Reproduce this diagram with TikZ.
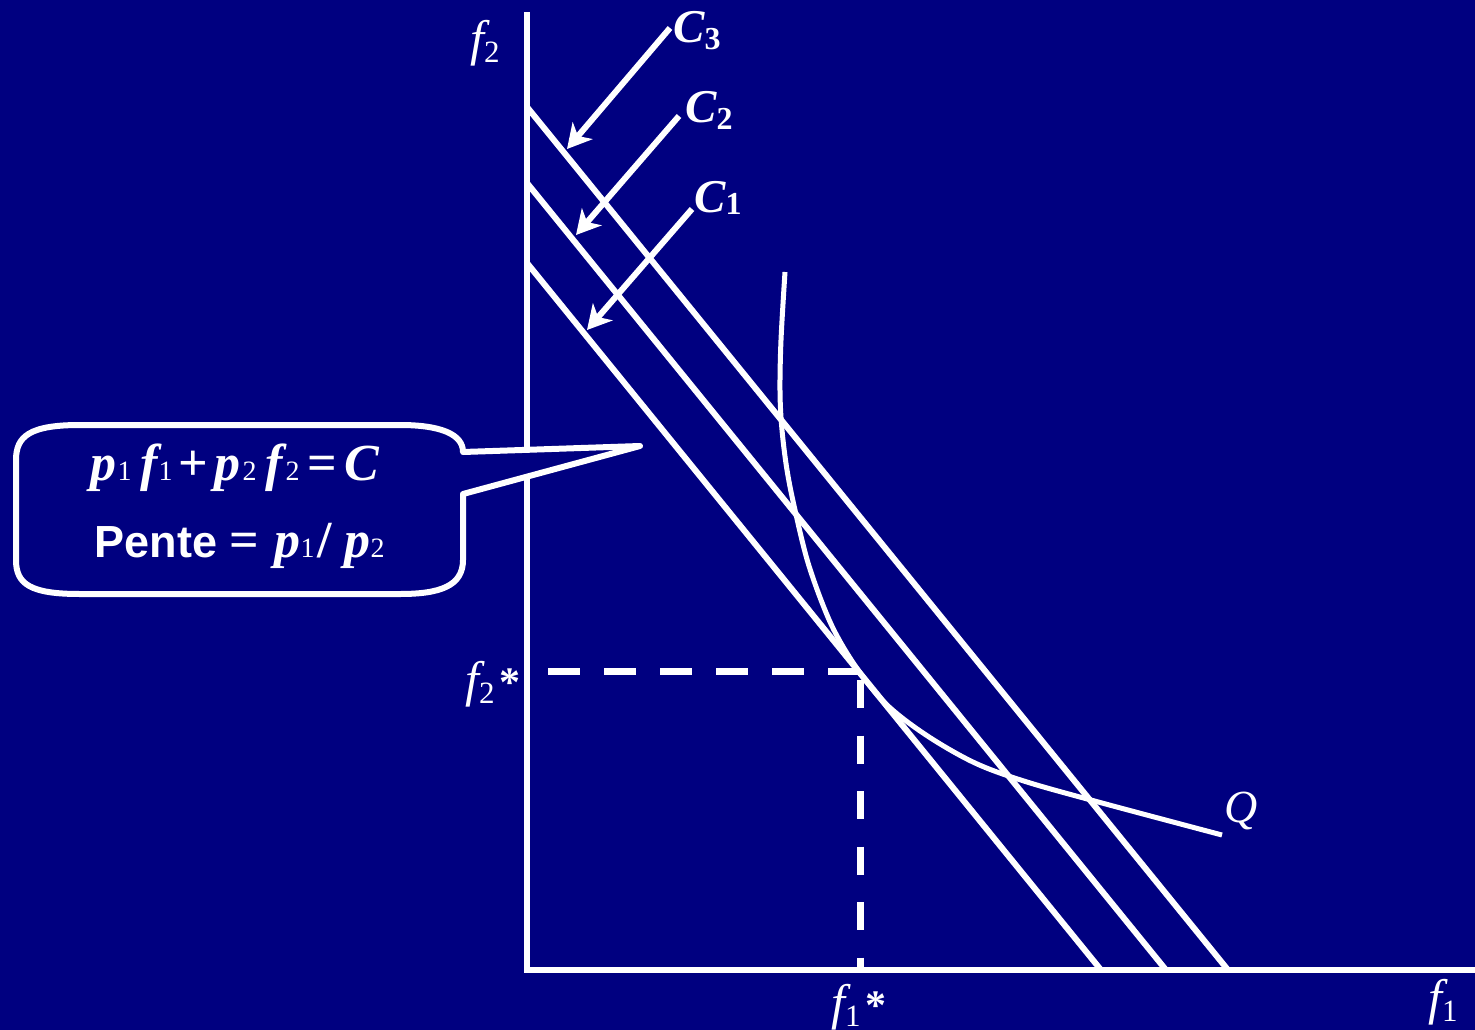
\documentclass[tikz,border=0pt]{standalone}
\usepackage{fontspec}
\setmainfont{Liberation Serif}
\newfontfamily\sansfont{Liberation Sans}
\usetikzlibrary{arrows.meta}
\definecolor{navy}{RGB}{0,0,128}
% piece placed at an offset from the node origin
\newcommand\pc[2]{\makebox[0pt][l]{\hspace*{#1pt}#2}}
\newcommand\biv[1]{{\fontsize{52}{52}\selectfont\bfseries\itshape #1}}
\newcommand\bup[1]{{\fontsize{52}{52}\selectfont\bfseries #1}}
\newcommand\sbr[1]{{\fontsize{28}{28}\selectfont #1}}
\newcommand\clab[2]{{\fontsize{47}{47}\selectfont\bfseries\itshape C}\raisebox{#2}{\fontsize{32}{32}\selectfont\bfseries #1}}
\newcommand\flab[2]{{\fontsize{50}{50}\selectfont\itshape f}\raisebox{-7pt}{\fontsize{31}{31}\selectfont #1}{\fontsize{42}{42}\selectfont\bfseries\hspace{5pt}#2}}
\tikzset{
  lbl/.style={anchor=base west, inner sep=0pt, text=white},
  axisline/.style={line width=6pt, line join=miter},
  budget/.style={line width=6pt},
  pointer/.style={line width=6pt, -{Stealth[length=24pt,width=26pt,inset=7pt]}},
  isoq/.style={line width=5pt},
  dashh/.style={line width=7pt, dash pattern=on 32pt off 24pt},
  dashv/.style={line width=7pt, dash pattern=on 28pt off 27.5pt},
  callout/.style={line width=6pt, fill=navy, line join=round}
}
\begin{document}
\begin{tikzpicture}[x=1pt,y=-1pt,white]
\fill[navy] (0,0) rectangle (1475,1030);
\useasboundingbox (0,0) rectangle (1475,1030);

% axes
\coordinate (ytop) at (527,12);
\coordinate (O) at (527,970);
\coordinate (xend) at (1478,970);
\draw[axisline] (ytop) -- (O) -- (xend);

% budget lines
\coordinate (c3a) at (527,107); \coordinate (c3b) at (1228,970);
\coordinate (c2a) at (527,183); \coordinate (c2b) at (1166,970);
\coordinate (c1a) at (527,263); \coordinate (c1b) at (1101,970);
\draw[budget] (c3a) -- (c3b);
\draw[budget] (c2a) -- (c2b);
\draw[budget] (c1a) -- (c1b);

% dashed lines
\coordinate (d2s) at (548,671); \coordinate (T) at (860,671);
\coordinate (d1s) at (860,680); \coordinate (d1e) at (860,970);
\draw[dashh] (d2s) -- (T);
\draw[dashv] (d1s) -- (d1e);

% isoquant
\draw[isoq] plot[smooth, tension=0.55] coordinates {(785,272) (781,340) (780,392) (782,430) (787,470) (795,510) (809,566) (831,624) (856,667) (886,704) (926,735) (975,763) (1027,782) (1102,803) (1222,835)};

% arrows
\coordinate (a3s) at (670,28); \coordinate (a3e) at (567,149);
\coordinate (a2s) at (679,116); \coordinate (a2e) at (576,235);
\coordinate (a1s) at (692,209); \coordinate (a1e) at (587,330);
\draw[pointer] (a3s) -- (a3e);
\draw[pointer] (a2s) -- (a2e);
\draw[pointer] (a1s) -- (a1e);

% labels
\node[lbl] (lC3) at (673,43) {\clab{3}{-7pt}};
\node[lbl] (lC2) at (685,123) {\clab{2}{-7pt}};
\node[lbl] (lC1) at (694,212) {\clab{1}{-2pt}};
\node[lbl] (lf2) at (470,56) {\flab{2}{}};
\node[lbl] (lf2s) at (465,696) {\flab{2}{*}};
\node[lbl] (lf1s) at (831,1019) {\flab{1}{*}};
\node[lbl] (lf1) at (1428,1014) {\flab{1}{}};
\node[lbl] (lQ) at (1224,822) {\fontsize{46}{46}\selectfont\itshape Q};

% callout
\draw[callout] (463,452) -- (640,446) -- (463,494) -- (463,560)
  .. controls (463,586) and (440,594) .. (400,594) -- (80,594)
  .. controls (30,594) and (16,584) .. (16,560) -- (16,460)
  .. controls (16,436) and (30,425) .. (80,425) -- (400,425)
  .. controls (440,425) and (463,434) .. (463,452) -- cycle;
\node[lbl] (eq1) at (0,480) {\pc{90}{\biv{p}}\pc{117}{\sbr{1}}\pc{140}{\biv{f}}\pc{158}{\sbr{1}}\pc{178}{\bup{+}}\pc{214}{\biv{p}}\pc{242}{\sbr{2}}\pc{265}{\biv{f}}\pc{285}{\sbr{2}}\pc{307}{\bup{=}}\pc{344}{\biv{C}}};
\node[lbl] (eq2) at (0,557) {\pc{94}{\fontsize{45}{45}\selectfont\sansfont\bfseries Pente}\pc{229}{\bup{=}}\pc{274}{\biv{p}}\pc{300}{\sbr{1}}\pc{317}{\bup{/}}\pc{344}{\biv{p}}\pc{370}{\sbr{2}}};
\end{tikzpicture}
\end{document}
